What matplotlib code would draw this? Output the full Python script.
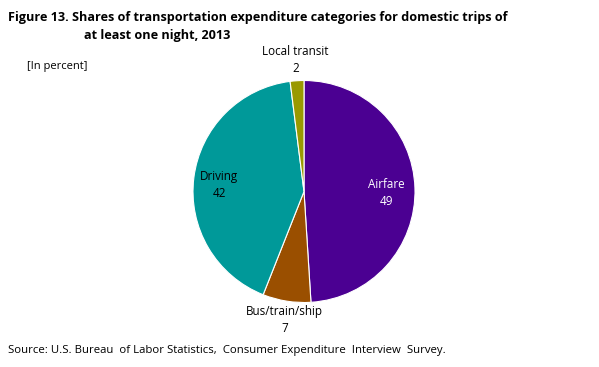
import numpy as np
import matplotlib
matplotlib.use('Agg')
import matplotlib.pyplot as plt

# data
labels = ['Airfare', 'Bus/train/ship', 'Driving', 'Local transit']
shares = [49, 7, 42, 2]
colors = ['#4b0092', '#9a4f00', '#009999', '#999900']
label_colors = ['white', 'black', 'black', 'black']
label_radius = [0.74, 1.13, 0.77, 1.23]

plt.rcParams['font.family'] = ['Open Sans', 'DejaVu Sans']

W, H = 599, 367
fig = plt.figure(figsize=(W / 100, H / 100), dpi=100)

# pie axes: centre (304, 191.5) px from top, radius 111 px
cx, cy, r = 304, 191.5, 111
ax = fig.add_axes([(cx - r) / W, (H - cy - r) / H, 2 * r / W, 2 * r / H])
wedges, _ = ax.pie(shares, colors=colors, startangle=90, counterclock=False,
                   wedgeprops=dict(edgecolor='white', linewidth=0.8))
ax.set_xlim(-1, 1)
ax.set_ylim(-1, 1)
ax.set_aspect('equal')
ax.axis('off')

for w, lab, val, c, rr in zip(wedges, labels, shares, label_colors, label_radius):
    mid = np.deg2rad((w.theta1 + w.theta2) / 2)
    ax.text(rr * np.cos(mid), rr * np.sin(mid) - 0.04, f'{lab}\n{val}', ha='center', va='center',
            color=c, fontsize=8.4, linespacing=1.4, clip_on=False)

fig.text(8 / W, 1 - 17 / H, 'Figure 13. Shares of transportation expenditure categories for domestic trips of',
         fontsize=9.1, fontweight='bold', va='center', ha='left')
fig.text(84 / W, 1 - 36 / H, 'at least one night, 2013',
         fontsize=9.1, fontweight='bold', va='center', ha='left')
fig.text(27 / W, 1 - 67 / H, '[In percent]', fontsize=8, va='center', ha='left')
fig.text(8 / W, 1 - 351 / H, 'Source: U.S. Bureau  of Labor Statistics,  Consumer Expenditure  Interview  Survey.',
         fontsize=8.2, va='center', ha='left')

fig.savefig('out.png', dpi=100)
